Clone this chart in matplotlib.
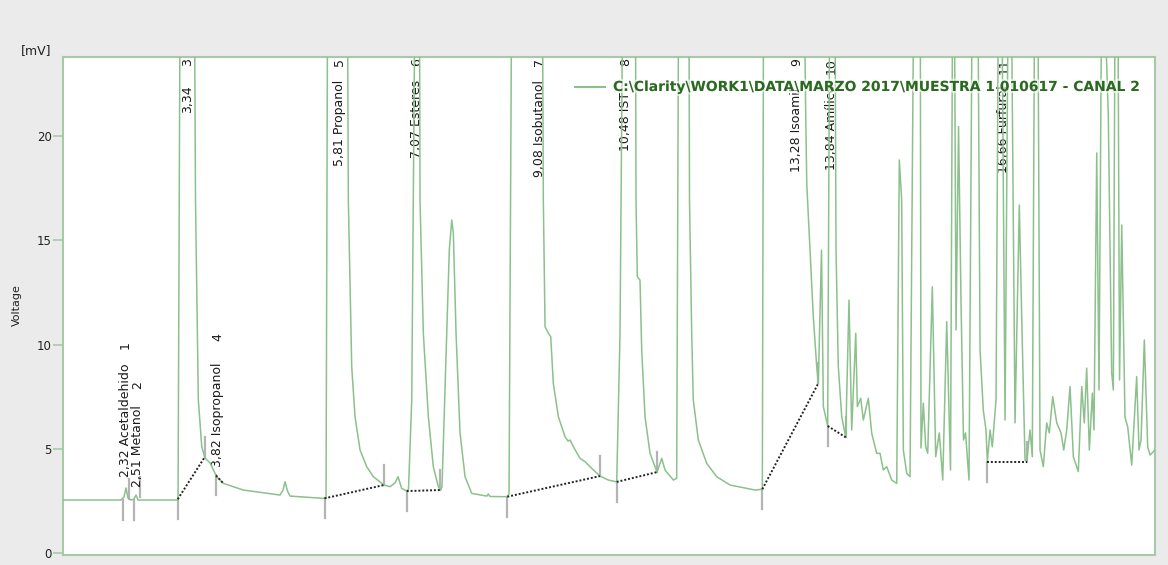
import matplotlib
matplotlib.use("Agg")
import matplotlib.pyplot as plt
import matplotlib.patheffects as pe
from matplotlib.lines import Line2D

# Chromatogram trace: retention time [min] and detector signal [mV]
# (off-scale peaks are given a nominal apex above the visible range)
ret_time = [
    1.299, 2.246, 2.295, 2.328, 2.360, 2.409, 2.458, 2.491, 2.524, 3.177,
    3.209, 3.324, 3.446, 3.462, 3.508, 3.564, 3.617, 3.699, 3.808, 3.916,
    4.243, 4.842, 4.891, 4.923, 4.964, 5.005, 5.549, 5.593, 5.617, 5.789,
    5.944, 5.957, 6.012, 6.066, 6.148, 6.257, 6.365, 6.539, 6.637, 6.719,
    6.768, 6.828, 6.910, 6.939, 6.992, 7.041, 7.078, 7.119, 7.127, 7.181,
    7.263, 7.344, 7.426, 7.465, 7.486, 7.563, 7.605, 7.645, 7.671, 7.715,
    7.780, 7.862, 7.971, 8.216, 8.242, 8.270, 8.547, 8.580, 8.621, 8.841,
    9.127, 9.140, 9.168, 9.221, 9.261, 9.303, 9.385, 9.494, 9.543, 9.576,
    9.630, 9.739, 9.821, 9.930, 10.065, 10.201, 10.338, 10.392, 10.433, 10.539,
    10.645, 10.653, 10.674, 10.718, 10.746, 10.800, 10.882, 10.996, 11.073, 11.126,
    11.262, 11.317, 11.347, 11.437, 11.518, 11.526, 11.562, 11.588, 11.670, 11.807,
    11.970, 12.188, 12.460, 12.596, 12.715, 12.734, 13.167, 13.404, 13.420, 13.440,
    13.493, 13.547, 13.603, 13.629, 13.681, 13.711, 13.782, 13.812, 13.861, 13.902,
    13.918, 13.955, 14.011, 14.076, 14.130, 14.174, 14.240, 14.266, 14.321, 14.364,
    14.445, 14.501, 14.582, 14.636, 14.690, 14.746, 14.827, 14.909, 14.951, 14.990,
    15.017, 15.072, 15.126, 15.183, 15.240, 15.294, 15.305, 15.343, 15.382, 15.415,
    15.490, 15.545, 15.604, 15.660, 15.725, 15.787, 15.820, 15.836, 15.852, 15.877,
    15.918, 15.958, 15.999, 16.032, 16.089, 16.138, 16.187, 16.236, 16.269, 16.322,
    16.366, 16.388, 16.432, 16.469, 16.530, 16.567, 16.595, 16.628, 16.677, 16.726,
    16.758, 16.783, 16.840, 16.910, 16.949, 17.003, 17.031, 17.085, 17.122, 17.158,
    17.188, 17.215, 17.248, 17.302, 17.357, 17.400, 17.455, 17.521, 17.591, 17.635,
    17.684, 17.738, 17.792, 17.873, 17.929, 17.971, 18.010, 18.053, 18.102, 18.129,
    18.174, 18.211, 18.252, 18.276, 18.301, 18.337, 18.363, 18.418, 18.445, 18.472,
    18.497, 18.521, 18.546, 18.582, 18.635, 18.680, 18.745, 18.826, 18.864, 18.897,
    18.951, 19.006, 19.044, 19.125,
]
signal_mv = [
    2.54, 2.54, 2.69, 3.12, 2.64, 2.54, 2.59, 2.78, 2.54, 2.54,
    26.0, 40.0, 26.0, 16.93, 7.34, 5.10, 4.56, 4.32, 3.66, 3.34,
    3.02, 2.78, 3.02, 3.42, 2.97, 2.73, 2.62, 2.64, 26.0, 40.0,
    26.0, 16.93, 8.94, 6.54, 4.94, 4.14, 3.66, 3.26, 3.18, 3.36,
    3.66, 3.10, 2.97, 3.07, 7.34, 26.0, 40.0, 26.0, 16.93, 10.55,
    6.54, 4.14, 3.18, 3.02, 3.18, 10.55, 14.53, 15.97, 15.35, 10.55,
    5.76, 3.66, 2.86, 2.73, 2.83, 2.71, 2.70, 2.83, 26.0, 40.0,
    26.0, 16.93, 10.85, 10.55, 10.37, 8.14, 6.54, 5.58, 5.37, 5.42,
    5.10, 4.54, 4.38, 4.06, 3.69, 3.50, 3.41, 10.55, 26.0, 40.0,
    26.0, 16.93, 13.25, 13.09, 9.74, 6.54, 4.78, 3.88, 4.54, 3.98,
    3.50, 3.58, 26.0, 40.0, 26.0, 16.93, 10.55, 7.34, 5.42, 4.30,
    3.66, 3.26, 3.10, 3.02, 3.06, 26.0, 40.0, 26.0, 21.73, 17.73,
    14.53, 11.33, 8.94, 8.14, 14.53, 7.02, 6.09, 26.0, 40.0, 26.0,
    14.53, 8.94, 6.54, 5.55, 12.13, 5.90, 10.54, 7.02, 7.42, 6.38,
    7.42, 5.74, 4.78, 4.78, 3.98, 4.14, 3.50, 3.34, 18.85, 16.93,
    4.94, 3.82, 3.66, 26.0, 40.0, 26.0, 5.04, 7.19, 5.10, 4.78,
    12.77, 4.62, 5.76, 3.50, 11.09, 3.98, 26.0, 40.0, 26.0, 10.70,
    20.45, 12.13, 5.42, 5.76, 3.50, 26.0, 40.0, 26.0, 9.74, 6.86,
    5.90, 4.38, 5.90, 5.10, 7.34, 26.0, 40.0, 26.0, 6.38, 26.0,
    40.0, 26.0, 6.24, 16.69, 11.32, 4.46, 4.38, 5.90, 4.62, 26.0,
    40.0, 26.0, 4.94, 4.14, 6.24, 5.76, 7.50, 6.24, 5.76, 4.94,
    5.90, 7.98, 4.62, 3.90, 7.98, 6.24, 8.87, 4.94, 7.67, 5.90,
    19.19, 7.82, 26.0, 40.0, 26.0, 23.41, 20.91, 8.63, 7.82, 26.0,
    40.0, 26.0, 8.30, 15.73, 6.52, 6.04, 4.22, 8.46, 4.94, 5.42,
    10.22, 5.08, 4.70, 4.94,
]

# Identified peaks
peak_no = [1, 2, 3, 4, 5, 6, 7, 8, 9, 10, 11]
peak_rt = [2.32, 2.51, 3.34, 3.82, 5.81, 7.07, 9.08, 10.48, 13.28, 13.84, 16.66]
peak_name = ["Acetaldehido", "Metanol", "", "Isopropanol", "Propanol", "Esteres",
             "Isobutanol", "IST", "Isoamil", "Amílico", "Furfural"]

# Integration baselines (start -> end)
base_t0 = [3.172, 3.797, 5.568, 6.910, 8.552, 10.338, 12.715, 13.782, 16.388]
base_v0 = [2.58, 3.72, 2.62, 2.97, 2.70, 3.41, 3.06, 6.09, 4.38]
base_t1 = [3.617, 3.916, 6.539, 7.458, 10.065, 10.996, 13.629, 14.076, 17.031]
base_v1 = [4.62, 3.34, 3.26, 3.02, 3.69, 3.88, 8.14, 5.55, 4.38]

# Peak start / end markers
start_t = [2.274, 2.463, 3.172, 3.797, 5.568, 6.910, 8.552, 10.338, 12.715, 13.782, 16.388]
start_v = [2.54, 2.56, 2.58, 3.72, 2.62, 2.97, 2.70, 3.41, 3.06, 6.09, 4.38]
end_t = [2.377, 2.556, 3.617, 6.539, 7.458, 10.065, 10.996, 13.629, 14.076, 17.031]
end_v = [2.60, 2.70, 4.62, 3.26, 3.02, 3.69, 3.88, 8.14, 5.55, 4.38]

series_name = "C:\\Clarity\\WORK1\\DATA\\MARZO 2017\\MUESTRA 1 010617 - CANAL 2"

W, H = 1168, 565
fig = plt.figure(figsize=(W / 100, H / 100), dpi=100, facecolor="#ebebeb")
ax = fig.add_axes([63 / W, 1 - 555 / H, (1155 - 63) / W, (555 - 57) / H])
ax.set_facecolor("white")

trace_col = "#8cc08c"
frame_col = "#a6caa6"

ax.plot(ret_time, signal_mv, color=trace_col, lw=1.1, zorder=3)

for t0, v0, t1, v1 in zip(base_t0, base_v0, base_t1, base_v1):
    ax.plot([t0, t1], [v0, v1], color="#222222", lw=1.4,
            linestyle=(0, (1, 1)), zorder=4)

tick_len = 0.96
for t, v in zip(start_t, start_v):
    ax.plot([t, t], [v, v - tick_len], color="#b4b4b4", lw=1.6, zorder=2)
for t, v in zip(end_t, end_v):
    ax.plot([t, t], [v, v + tick_len], color="#b4b4b4", lw=1.6, zorder=2)

# Peak labels: small peaks labelled just above the peak, large ones at the top
low_label = {1: (3.66, 9.98), 2: (3.18, 8.06), 4: (4.14, 10.36)}
top_label = {3: 22.45, 5: 22.69, 6: 22.69, 7: 22.69, 8: 22.11, 9: 22.30, 10: 22.45, 11: 22.45}
lbl_kw = dict(rotation=90, ha="center", fontsize=9, color="#1a1a1a", zorder=2)
for no, rt, name in zip(peak_no, peak_rt, peak_name):
    txt = f"{rt:.2f}".replace(".", ",") + (" " + name if name else "")
    if no in low_label:
        y_txt, y_no = low_label[no]
        ax.text(rt, y_txt, txt, va="bottom", **lbl_kw)
        ax.text(rt, y_no, str(no), va="center", **lbl_kw)
    else:
        ax.text(rt, top_label[no], txt, va="top", **lbl_kw)
        ax.text(rt, 23.74, str(no), va="top", **lbl_kw)

ax.set_xlim(1.299, 19.125)
ax.set_ylim(-0.096, 23.79)
ax.set_xticks([])
ax.set_yticks([0, 5, 10, 15, 20])
ax.tick_params(axis="y", length=7, width=1.2, color=frame_col,
               labelsize=8.5, labelcolor="#222222", pad=1)
for sp in ax.spines.values():
    sp.set_color(frame_col)
    sp.set_linewidth(1.5)

fig.text(36 / W, 1 - 51 / H, "[mV]", ha="center", va="center", fontsize=9, color="#222222")
fig.text(17 / W, 1 - 305 / H, "Voltage", rotation=90, ha="center", va="center",
         fontsize=8, color="#222222")

# Series legend, drawn over the peak labels with a soft white halo
fig.add_artist(Line2D([575 / W, 605 / W], [1 - 87 / H, 1 - 87 / H],
                      transform=fig.transFigure, color=trace_col, lw=1.5))
fig.text(613 / W, 1 - 87 / H, series_name, ha="left", va="center",
         fontsize=10, fontweight="bold", color="#2a6a20", zorder=10,
         path_effects=[pe.withStroke(linewidth=3, foreground="white", alpha=0.6)])

fig.savefig("out.png", dpi=100, facecolor=fig.get_facecolor())
